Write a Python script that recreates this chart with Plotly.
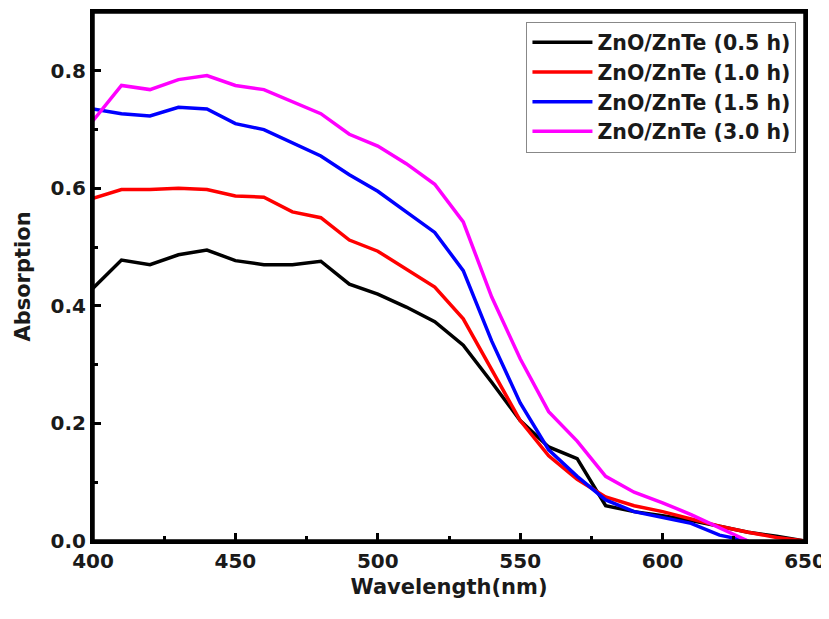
import plotly.graph_objects as go

wavelength = [400, 410, 420, 430, 440, 450, 460, 470, 480, 490, 500, 510, 520, 530, 540,
              550, 560, 570, 580, 590, 600, 610, 620, 630, 640, 650]

abs_05 = [0.430, 0.478, 0.470, 0.487, 0.495, 0.477, 0.470, 0.470, 0.476, 0.437, 0.420, 0.398, 0.373,
          0.333, 0.270, 0.205, 0.160, 0.140, 0.060, 0.050, 0.043, 0.035, 0.025, 0.015, 0.008, 0.000]
abs_10 = [0.583, 0.598, 0.598, 0.600, 0.598, 0.587, 0.585, 0.560, 0.550, 0.512, 0.493, 0.463, 0.432,
          0.378, 0.290, 0.205, 0.145, 0.105, 0.075, 0.060, 0.050, 0.037, 0.025, 0.015, 0.006, 0.000]
abs_15 = [0.735, 0.727, 0.723, 0.738, 0.735, 0.710, 0.700, 0.678, 0.655, 0.623, 0.595, 0.560, 0.525,
          0.460, 0.340, 0.235, 0.155, 0.110, 0.070, 0.050, 0.040, 0.030, 0.010, 0.000]
abs_30 = [0.715, 0.775, 0.768, 0.785, 0.792, 0.775, 0.768, 0.748, 0.727, 0.692, 0.672, 0.642, 0.607,
          0.543, 0.415, 0.310, 0.220, 0.170, 0.110, 0.083, 0.065, 0.045, 0.022, 0.000]

names = ["ZnO/ZnTe (0.5 h)", "ZnO/ZnTe (1.0 h)", "ZnO/ZnTe (1.5 h)", "ZnO/ZnTe (3.0 h)"]
colors = ["#000000", "#ff0000", "#0000ff", "#ff00ff"]
values = [abs_05, abs_10, abs_15, abs_30]

x_major = [400, 450, 500, 550, 600, 650]
x_minor = [425, 475, 525, 575, 625]
y_major = [0, 0.2, 0.4, 0.6, 0.8]
y_minor = [0.1, 0.3, 0.5, 0.7]

fig = go.Figure()
for name, vals, color in zip(names, values, colors):
    fig.add_trace(go.Scatter(x=wavelength[:len(vals)], y=vals, mode="lines",
                             name="<b>" + name + "</b>",
                             line=dict(color=color, width=3.5)))

font_family = "DejaVu Sans, sans-serif"
txt = "#1a1a1a"
axis_common = dict(
    showline=True, linecolor="black", linewidth=3, mirror=True,
    showgrid=False, zeroline=False, automargin=False,
    ticks="inside", ticklen=8, tickwidth=3, tickcolor="black",
    tickfont=dict(family=font_family, size=20, color=txt),
)

fig.update_xaxes(range=[400, 650], tickmode="array",
                 tickvals=x_major,
                 ticktext=["<b>%d</b>" % v for v in x_major],
                 minor=dict(tickmode="array", tickvals=x_minor,
                            ticks="inside", ticklen=5, tickwidth=3, tickcolor="black"),
                 title=dict(text="<b>Wavelength(nm)</b>", font=dict(family=font_family, size=21, color=txt), standoff=8),
                 **axis_common)
fig.update_yaxes(range=[0, 0.9], tickmode="array",
                 tickvals=y_major,
                 ticktext=["<b>%.1f</b>" % v for v in y_major],
                 minor=dict(tickmode="array", tickvals=y_minor,
                            ticks="inside", ticklen=5, tickwidth=3, tickcolor="black"),
                 title=dict(text="<b>Absorption</b>", font=dict(family=font_family, size=21, color=txt), standoff=15),
                 **axis_common)

# plot frame
fig.add_shape(type="rect", xref="paper", yref="paper", x0=0, y0=0, x1=1, y1=1,
              line=dict(color="black", width=3.5), fillcolor="rgba(0,0,0,0)", layer="above")

fig.update_layout(
    width=829, height=619,
    margin=dict(l=85, r=32, t=4, b=86),
    plot_bgcolor="white", paper_bgcolor="white",
    font=dict(family=font_family),
    showlegend=True,
    legend=dict(x=0.988, y=0.982, xanchor="right", yanchor="top",
                bgcolor="white", bordercolor="#888", borderwidth=1,
                font=dict(family=font_family, size=20.5, color=txt),
                itemwidth=60, tracegroupgap=0),
)

fig.write_html("out.html")
